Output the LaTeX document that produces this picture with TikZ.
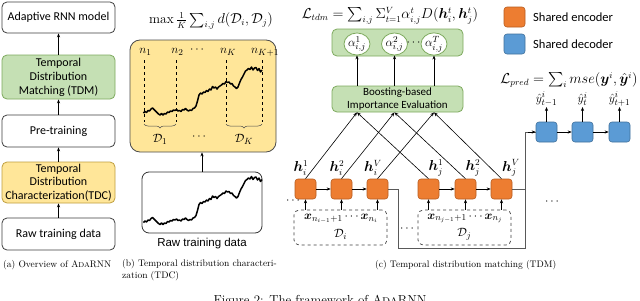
\documentclass[tikz,border=0pt]{standalone}
\usepackage{amsmath}
\usepackage{bm}
\usepackage{fontspec}
\setsansfont{Carlito}
\newfontfamily\arialfont{Liberation Sans}
\usetikzlibrary{arrows.meta,decorations.pathreplacing,calc,shapes.geometric}

\definecolor{gfill}{HTML}{C5E0B4}
\definecolor{gdraw}{HTML}{7EAA5E}
\definecolor{yfill}{HTML}{FFE699}
\definecolor{ydraw}{HTML}{BF9F3F}
\definecolor{ofill}{HTML}{ED7D31}
\definecolor{odraw}{HTML}{B85C1F}
\definecolor{bfill}{HTML}{5B9BD5}
\definecolor{bdraw}{HTML}{41719C}
\definecolor{edgec}{HTML}{404040}

\newcommand{\tsdraw}[1]{\draw[tscurve,#1] (143.5,113) -- (145,111.5) -- (146.5,112.5) -- (148,110.5) -- (149.5,111) -- (151,109) -- (152.5,108) -- (154,109.5) -- (155.5,111) -- (157,112.5) -- (158.5,114) -- (160,115) -- (161.5,113.5) -- (163,115) -- (164.5,113.5) -- (166,114) -- (167.5,112) -- (169,112.5) -- (170.5,111) -- (172,111.5) -- (173.5,110) -- (175,110.5) -- (176.5,109.5) -- (178,111) -- (179.5,110.5) -- (181,111.5) -- (182.5,109.5) -- (184,110) -- (185.5,108.5) -- (187,110) -- (188.5,111) -- (190,110) -- (191.5,110.5) -- (193,108.5) -- (194.5,108) -- (196,106) -- (197.5,101) -- (199,95) -- (200.5,93) -- (202,94) -- (203.5,92) -- (205,92.5) -- (206.5,90.5) -- (208,91.5) -- (209.5,89) -- (211,90) -- (212.5,86.5) -- (214,88) -- (215.5,87) -- (217,89) -- (218.5,87) -- (220,86) -- (221.5,85) -- (223,83.5) -- (224.5,84) -- (226,81.5) -- (227.5,82.5) -- (229,82) -- (230.5,84) -- (232,83.5) -- (233.5,86) -- (235,87) -- (236.5,88.5) -- (238,87) -- (239.5,83) -- (241,79.5) -- (242.5,77) -- (244,74) -- (245.5,71) -- (247,70) -- (248.5,68.5) -- (250,69.5) -- (251.5,67) -- (253,70) -- (254.5,68) -- (256,67.5) -- (257.5,70.5) -- (259,68.5) -- (260.5,72) -- (262,70);}

\begin{document}
\begin{tikzpicture}[x=1pt,y=-1pt,
  arr/.style={-{Stealth[length=4pt,width=3.2pt]}, line width=0.6pt, black},
  abox/.style={draw=edgec, line width=0.8pt, rounded corners=5pt, minimum width=113pt, align=center, inner sep=1pt, font=\sffamily\fontsize{12}{14}\selectfont},
  greenbox/.style={abox, fill=gfill, draw=gdraw},
  yellowbox/.style={abox, fill=yfill, draw=ydraw},
  tscurve/.style={line width=1.5pt, black, line join=round},
  mk/.style={dashed, line width=0.8pt, black},
  lab/.style={inner sep=0pt, font=\fontsize{13}{15}\selectfont},
  enc/.style={draw=odraw, fill=ofill, rounded corners=3pt, minimum width=21pt, minimum height=20pt, inner sep=0pt, line width=0.6pt},
  dec/.style={draw=bdraw, fill=bfill, rounded corners=3pt, minimum width=21pt, minimum height=20pt, inner sep=0pt, line width=0.6pt},
  alf/.style={ellipse, draw=gdraw, fill=white, line width=0.8pt, minimum width=26pt, minimum height=22pt, inner sep=0pt, font=\fontsize{12.5}{14}\selectfont},
  dbox/.style={draw=edgec, dashed, rounded corners=5pt, line width=0.7pt, minimum width=93pt, minimum height=35pt, inner sep=0pt},
  route/.style={line width=0.6pt, black!65},
  captxt/.style={inner sep=0pt, anchor=west, align=left, font=\fontsize{9.5}{12}\selectfont}
]
\fill[white] (0,0) rectangle (640,300);
\useasboundingbox (0,0) rectangle (640,300);

% ---------- panel (a)
\node[abox, minimum height=31pt] (ada) at (58.5,17.5) {Adaptive RNN model};
\node[greenbox, minimum height=44pt] (tdm) at (58.5,77) {Temporal\\Distribution\\Matching (TDM)};
\node[abox, minimum height=32pt] (pre) at (58.5,131) {Pre-training};
\node[yellowbox, minimum height=41pt, font=\sffamily\fontsize{12}{13.5}\selectfont] (tdc) at (58.5,182.5) {Temporal\\Distribution\\Characterization(TDC)};
\node[abox, minimum height=32pt] (rawa) at (58.5,234) {Raw training data};
\draw[arr] (rawa) -- (tdc);
\draw[arr] (tdc) -- (pre);
\draw[arr] (pre) -- (tdm);
\draw[arr] (tdm) -- (ada);
\node[captxt] (capa) at (3,265) {(a) Overview of A\textsc{da}RNN};

% ---------- panel (b)
\node[lab, font=\fontsize{13.5}{15}\selectfont] (maxf) at (211,21) {$\max\tfrac{1}{K}\sum_{i,j} d(\mathcal{D}_i,\mathcal{D}_j)$};
\node[draw=black!70, fill=yfill, line width=0.8pt, rounded corners=10pt, minimum width=146pt, minimum height=112pt] (ybox) at (203,96) {};
\draw[mk] (144,60) -- (144,122);
\draw[mk] (176,60) -- (176,122);
\draw[mk] (226,60) -- (226,122);
\draw[mk] (262,60) -- (262,122);
\node[lab] (n1) at (145.5,52) {$n_1$};
\node[lab] (n2) at (177.5,52) {$n_2$};
\node[lab] (ndots) at (198,50) {$\cdots$};
\node[lab] (nK) at (228,52) {$n_K$};
\node[lab] (nK1) at (265,52) {$n_{K+1}$};
\tsdraw{}
\draw[decorate, decoration={brace, mirror, amplitude=4pt}, line width=0.5pt, black!70] (144,124) -- (176,124);
\draw[decorate, decoration={brace, mirror, amplitude=4pt}, line width=0.5pt, black!70] (226,124) -- (262,124);
\node[lab] (d1) at (160,139) {$\mathcal{D}_1$};
\node[lab] (ddots) at (200,137) {$\cdots$};
\node[lab] (dK) at (244,139) {$\mathcal{D}_K$};
\node[draw=black!80, fill=white, line width=0.8pt, rounded corners=7pt, minimum width=120pt, minimum height=61pt] (rawb) at (202,202.5) {};
\tsdraw{shift={(0,109.5)}}
\draw[arr] (rawb) -- (rawb |- ybox.south);
\node[inner sep=0pt, font=\arialfont\fontsize{11.5}{13}\selectfont] (rawlab) at (202,244) {Raw training data};
\node[captxt] (capb) at (122,270.5) {(b) Temporal distribution characteri-\\zation (TDC)};

% ---------- panel (c)
\node[lab, font=\fontsize{13.5}{16}\selectfont] (ltdm) at (390,16) {$\mathcal{L}_{tdm}=\sum_{i,j}\Sigma_{t=1}^{V}\alpha_{i,j}^{t}D(\bm{h}_i^t,\bm{h}_j^t)$};
\node[draw=gdraw, fill=gfill, line width=0.8pt, rounded corners=5pt, minimum width=131pt, minimum height=27pt] (abx) at (397.5,42.5) {};
\node[alf] (a1) at (357,44) {$\alpha_{i,j}^1$};
\node[alf] (a2) at (394.5,44) {$\alpha_{i,j}^2$};
\node[alf] (aT) at (434,44) {$\alpha_{i,j}^T$};
\node[lab] (adots) at (414.5,43) {$\cdots$};
\node[draw=gdraw, fill=gfill, line width=0.8pt, rounded corners=5pt, minimum width=131pt, minimum height=26pt, align=center, inner sep=0pt, font=\sffamily\fontsize{11}{13}\selectfont] (boost) at (397.5,99) {Boosting-based\\Importance Evaluation};
\draw[arr] (boost.north -| a1) -- (a1);
\draw[arr] (boost.north -| a2) -- (a2);
\draw[arr] (boost.north -| aT) -- (aT);

\node[enc] (hi1) at (305.5,189) {};
\node[enc] (hi2) at (341.5,189) {};
\node[enc] (hiV) at (377.5,189) {};
\node[enc] (hj1) at (428.5,189) {};
\node[enc] (hj2) at (465.5,189) {};
\node[enc] (hjV) at (501.5,189) {};
\node[lab, font=\fontsize{13.5}{15}\selectfont] (lhi1) at (301,168) {$\bm{h}_i^1$};
\node[lab, font=\fontsize{13.5}{15}\selectfont] (lhi2) at (337,168) {$\bm{h}_i^2$};
\node[lab, font=\fontsize{13.5}{15}\selectfont] (lhiV) at (373,168) {$\bm{h}_i^V$};
\node[lab, font=\fontsize{13.5}{15}\selectfont] (lhj1) at (436,168) {$\bm{h}_j^1$};
\node[lab, font=\fontsize{13.5}{15}\selectfont] (lhj2) at (473,168) {$\bm{h}_j^2$};
\node[lab, font=\fontsize{13.5}{15}\selectfont] (lhjV) at (511,168) {$\bm{h}_j^V$};

\coordinate (t1) at (boost.south -| a1);
\coordinate (t2) at (boost.south -| a2);
\coordinate (t3) at (boost.south -| aT);
\draw[arr] (hi1.north) -- (t1);
\draw[arr] (hj1.north) -- (t1);
\draw[arr] (hi2.north) -- (t2);
\draw[arr] (hj2.north) -- (t2);
\draw[arr] (hiV.north) -- (t3);
\draw[arr] (hjV.north) -- (t3);

\draw[arr] (hi1) -- (hi2);
\draw[arr] (hi2) -- (hiV);
\draw[arr] (hj1) -- (hj2);
\draw[arr] (hj2) -- (hjV);

\node[dbox] (Di) at (340.5,227.5) {};
\node[dbox] (Dj) at (464.5,227.5) {};
\node[lab, font=\fontsize{12.5}{14}\selectfont] (xi) at (341,218.5) {$\bm{x}_{n_{i-1}+1}\cdots\bm{x}_{n_i}$};
\node[lab] (di) at (340.5,234) {$\mathcal{D}_i$};
\node[lab, font=\fontsize{12.5}{14}\selectfont] (xj) at (465,218.5) {$\bm{x}_{n_{j-1}+1}\cdots\bm{x}_{n_j}$};
\node[lab] (dj) at (464.5,234) {$\mathcal{D}_j$};
\foreach \h/\D in {hi1/Di,hi2/Di,hiV/Di,hj1/Dj,hj2/Dj,hjV/Dj}
  \draw[arr] (\h |- \D.north) -- (\h);
\node[lab] (ldots1) at (294,201) {$\cdots$};
\node[lab] (ldots2) at (408,229) {$\cdots$};

% decoder
\node[dec] (y1) at (546.5,132) {};
\node[dec] (y2) at (582.5,132) {};
\node[dec] (y3) at (619.5,132) {};
\draw[arr] (y1) -- (y2);
\draw[arr] (y2) -- (y3);
\node[lab] (ly1) at (546.5,99) {$\hat{y}_{t-1}^{i}$};
\node[lab] (ly2) at (582.5,99) {$\hat{y}_{t}^{i}$};
\node[lab] (ly3) at (619.5,99) {$\hat{y}_{t+1}^{i}$};
\draw[arr] (y1.north) -- (y1.north |- 0,107);
\draw[arr] (y2.north) -- (y2.north |- 0,107);
\draw[arr] (y3.north) -- (y3.north |- 0,107);
\node[lab] (rdots) at (553,202) {$\cdots$};

\coordinate (turn1) at (398,248);
\coordinate (turn2) at (525,248);
\draw[route] (hiV.east) -| (turn1) -- (turn2) |- (y1.west);
\draw[-{Stealth[length=4pt,width=3.2pt]}, line width=0.6pt, black] (y1.west) ++(-8,0) -- (y1.west);
\draw[route] (hjV.east) -- (hjV.east -| turn2);

\node[lab, font=\fontsize{13.5}{16}\selectfont] (lpred) at (569,80) {$\mathcal{L}_{pred}=\sum_i mse(\bm{y}^i,\hat{\bm{y}}^i)$};

% legend
\node[enc] (legE) at (514.5,17) {};
\node[inner sep=0pt, anchor=west, font=\sffamily\fontsize{12.5}{14}\selectfont] (legEt) at (533,17) {Shared encoder};
\node[dec] (legD) at (514.5,44) {};
\node[inner sep=0pt, anchor=west, font=\sffamily\fontsize{12.5}{14}\selectfont] (legDt) at (533,44) {Shared decoder};

\node[captxt] (capc) at (375,265) {(c) Temporal distribution matching (TDM)};
\node[inner sep=0pt, anchor=base, font=\fontsize{13}{15}\selectfont] (figcap) at (320,304) {Figure 2: The framework of A\textsc{da}RNN};
\end{tikzpicture}
\end{document}
